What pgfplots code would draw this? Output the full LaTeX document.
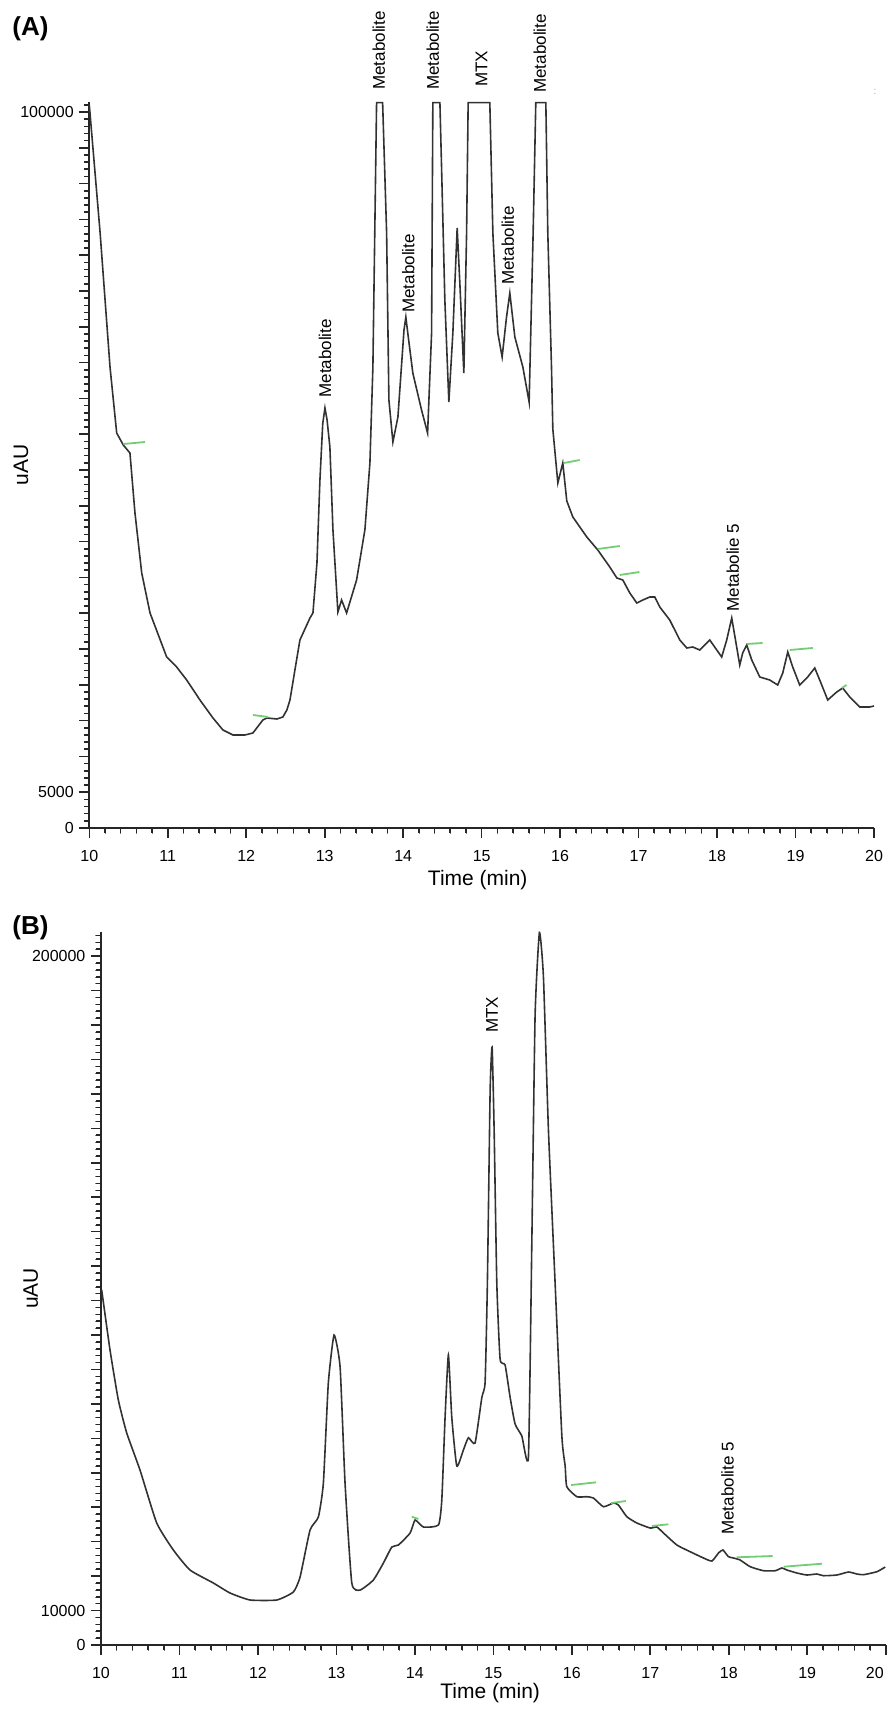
\documentclass[border=0pt]{standalone}
\usepackage{fontspec}
\setmainfont{Liberation Sans}
\usepackage{pgfplots}
\usepackage{pgfplotstable}
\pgfplotsset{compat=1.18}

\definecolor{trace}{RGB}{50,50,50}
\definecolor{intg}{RGB}{115,205,115}

% panel A trace (time in min, signal in uAU)
\pgfplotstableread{
t y
10.000 101000
10.138 83098
10.264 64383
10.349 55166
10.433 53490
10.518 52373
10.582 43993
10.668 35613
10.774 30027
10.986 23882
11.113 22485
11.241 20670
11.410 17876
11.576 15363
11.703 13687
11.831 12988
11.983 12988
12.085 13268
12.212 15083
12.263 15363
12.391 15223
12.467 15502
12.518 16480
12.557 17876
12.684 26256
12.812 29329
12.850 30027
12.901 37010
12.939 48602
12.975 56500
13.003 58657
13.030 57000
13.066 53210
13.105 41619
13.168 30167
13.215 31842
13.279 30027
13.406 34636
13.512 41619
13.576 50976
13.614 64383
13.661 101300
13.738 101300
13.789 83098
13.818 59774
13.869 53909
13.933 57400
14.010 69500
14.034 71366
14.060 69000
14.123 63545
14.234 58378
14.311 55166
14.362 69132
14.378 101300
14.468 101300
14.489 92315
14.531 73740
14.582 59495
14.633 69132
14.688 83796
14.722 76115
14.773 63545
14.808 83098
14.828 101300
15.104 101300
15.143 83098
15.206 69132
15.261 65780
15.317 71366
15.359 74718
15.423 68573
15.525 64383
15.605 59495
15.656 83098
15.690 101300
15.818 101300
15.843 83098
15.890 64383
15.907 55724
15.971 48183
16.034 50976
16.085 45669
16.162 43434
16.340 40641
16.480 38825
16.633 36451
16.723 34915
16.799 34636
16.888 32820
16.977 31424
17.054 31842
17.143 32261
17.206 32261
17.270 30865
17.397 29049
17.525 26256
17.614 25139
17.690 25278
17.779 24859
17.907 26256
17.996 24859
18.059 23882
18.123 26256
18.187 29329
18.250 25278
18.289 22765
18.327 24441
18.378 25558
18.442 23463
18.544 21089
18.671 20670
18.773 19971
18.837 21647
18.901 24580
18.964 22485
19.053 19971
19.155 21089
19.245 22346
19.308 20670
19.410 17876
19.525 18994
19.601 19552
19.691 18295
19.818 16899
19.945 16899
20.000 17039
}\traceA

% panel B trace
\pgfplotstableread{
t y
10.009 103049
10.115 85633
10.221 71119
10.328 61539
10.497 50799
10.710 35414
10.922 27577
11.134 21771
11.432 17997
11.644 15095
11.899 13063
12.240 13063
12.451 15385
12.537 19739
12.664 33382
12.770 37156
12.834 47025
12.897 76053
12.970 89987
13.047 80698
13.110 47025
13.196 17997
13.302 15965
13.471 18868
13.599 23803
13.706 28447
13.790 29028
13.939 32511
14.003 36285
14.108 34253
14.300 34834
14.343 42091
14.385 66184
14.427 84181
14.470 66184
14.534 51960
14.618 56605
14.682 60175
14.767 58637
14.853 71844
14.895 76344
14.924 105081
14.959 160815
14.984 173587
15.010 149494
15.044 105081
15.086 83020
15.150 81278
15.214 71844
15.277 64152
15.363 60669
15.447 54573
15.490 116402
15.532 182876
15.587 206825
15.638 194052
15.702 149494
15.787 105081
15.873 60669
15.915 51960
15.936 45951
16.064 43049
16.191 43049
16.275 42671
16.403 40146
16.530 41220
16.594 40639
16.701 37243
16.829 35414
16.998 33963
17.084 34253
17.168 32511
17.339 29028
17.508 27083
17.678 25254
17.785 24384
17.869 26706
17.925 27577
17.996 25632
18.060 25254
18.145 24674
18.273 22729
18.442 21568
18.592 21568
18.677 22352
18.741 21771
18.868 20900
18.996 20320
19.123 20610
19.207 20116
19.378 20320
19.526 21190
19.633 20610
19.717 20407
19.888 21277
19.994 22642
}\traceB

\pgfplotsset{
  chrom/.style={
    scale only axis, width=392.35pt,
    xmin=10, xmax=20,
    axis lines=left,
    axis line style={-, line width=0.9pt, black!85},
    tick align=outside,
    minor x tick num=4, minor y tick num=4,
    scaled y ticks=false,
    tick label style={font=\fontsize{8}{9}\selectfont},
    xticklabel style={yshift=-3.5pt},
    /pgf/number format/assume math mode=true,
    clip=false,
    xlabel={Time (min)}, ylabel={uAU},
    label style={font=\fontsize{10.5}{12}\selectfont},
  },
}
\tikzset{
  peak/.style={rotate=90, anchor=west, inner sep=0pt,
    font=\fontsize{8.5}{10}\selectfont},
  tk/.style={black!85, line width=0.8pt},
}

\begin{document}
\begin{tikzpicture}

% (A)
\begin{axis}[chrom, at={(44.65pt,441.5pt)}, anchor=south west,
  height=363pt, ymin=0, ymax=101400,
  xtick={10,...,20},
  xticklabels={10,11,12,13,14,15,16,17,18,19,20},
  ytick={0,5000,...,105000},
  yticklabels={0,5000,{},{},{},{},{},{},{},{},{},{},{},{},{},{},{},{},{},{},100000,{}},
  xlabel style={at={(axis description cs:0.495,-0.0716)}, anchor=center},
  ylabel style={at={(axis description cs:-0.087,0.5)}, anchor=center}]
% tick marks
\pgfplotsinvokeforeach{10,...,20}{\draw[tk] (axis cs:#1,0) -- ++(0pt,-5pt);}
\pgfplotsinvokeforeach{10.2,10.4,...,19.9}{\draw[tk] (axis cs:#1,0) -- ++(0pt,-2.5pt);}
\pgfplotsinvokeforeach{0,5,...,100}{\draw[tk] (axis cs:10,#1000) -- ++(-5pt,0pt);}
\pgfplotsinvokeforeach{1,2,...,101}{\draw[tk] (axis cs:10,#1000) -- ++(-2.5pt,0pt);}
\addplot[trace, line width=0.8pt] table[x=t, y=y] {\traceA};
\addplot[intg, line width=0.9pt] coordinates {(10.433,53630) (10.710,53909)};
\addplot[intg, line width=0.9pt] coordinates {(12.085,15782) (12.280,15502)};
\addplot[intg, line width=0.9pt] coordinates {(16.047,50976) (16.250,51395)};
\addplot[intg, line width=0.9pt] coordinates {(16.480,38965) (16.760,39384)};
\addplot[intg, line width=0.9pt] coordinates {(16.760,35334) (17.010,35753)};
\addplot[intg, line width=0.9pt] coordinates {(18.378,25697) (18.580,25837)};
\addplot[intg, line width=0.9pt] coordinates {(18.926,24859) (19.220,25139)};
\addplot[intg, line width=0.9pt] coordinates {(19.590,19552) (19.650,19971)};
\node[peak] at (axis cs:13.003,60054) {Metabolite};
\node[peak] at (axis cs:13.690,103069) {Metabolite};
\node[peak] at (axis cs:14.066,71925) {Metabolite};
\node[peak] at (axis cs:14.378,103069) {Metabolite};
\node[peak] at (axis cs:14.999,103488) {MTX};
\node[peak] at (axis cs:15.334,75835) {Metabolite};
\node[peak] at (axis cs:15.741,102650) {Metabolite};
\node[peak] at (axis cs:18.200,30167) {Metabolie 5};
\end{axis}

% (B)
\begin{axis}[chrom, at={(50.5pt,33pt)}, anchor=south west,
  height=356.5pt, ymin=0, ymax=207000,
  xtick={10,...,20},
  xticklabels={10,11,12,13,14,15,16,17,18,19,{\makebox[0pt][r]{20\hspace{1pt}}}},
  ytick={0,10000,...,210000},
  yticklabels={0,10000,{},{},{},{},{},{},{},{},{},{},{},{},{},{},{},{},{},{},200000,{}},
  xlabel style={at={(axis description cs:0.496,-0.0673)}, anchor=center},
  ylabel style={at={(axis description cs:-0.0895,0.5)}, anchor=center}]
% tick marks
\pgfplotsinvokeforeach{10,...,20}{\draw[tk] (axis cs:#1,0) -- ++(0pt,-5pt);}
\pgfplotsinvokeforeach{10.2,10.4,...,19.9}{\draw[tk] (axis cs:#1,0) -- ++(0pt,-2.5pt);}
\pgfplotsinvokeforeach{0,10,...,200}{\draw[tk] (axis cs:10,#1000) -- ++(-5pt,0pt);}
\pgfplotsinvokeforeach{2,4,...,206}{\draw[tk] (axis cs:10,#1000) -- ++(-2.5pt,0pt);}
\addplot[trace, line width=0.8pt, smooth, tension=0.3] table[x=t, y=y] {\traceB};
\addplot[intg, line width=0.9pt] coordinates {(13.961,37243) (14.045,36575)};
\addplot[intg, line width=0.9pt] coordinates {(15.991,46445) (16.310,47228)};
\addplot[intg, line width=0.9pt] coordinates {(16.500,41220) (16.690,41800)};
\addplot[intg, line width=0.9pt] coordinates {(17.020,34543) (17.230,35036)};
\addplot[intg, line width=0.9pt] coordinates {(18.100,25457) (18.560,25835)};
\addplot[intg, line width=0.9pt] coordinates {(18.700,22729) (19.190,23600)};
\node[peak] at (axis cs:14.984,177651) {MTX};
\node[peak] at (axis cs:17.986,31931) {Metabolite 5};
\end{axis}

\node[anchor=west, inner sep=0pt, font=\bfseries\fontsize{13}{15}\selectfont] at (6pt,841pt) {(A)};
\node[anchor=west, inner sep=0pt, font=\bfseries\fontsize{13}{15}\selectfont] at (6pt,391.5pt) {(B)};
\node[inner sep=0pt, text=black!35, font=\fontsize{5}{6}\selectfont] at (437.5pt,809.5pt) {:};
\useasboundingbox (0,0) rectangle (445.5pt,855.5pt);
\end{tikzpicture}
\end{document}
